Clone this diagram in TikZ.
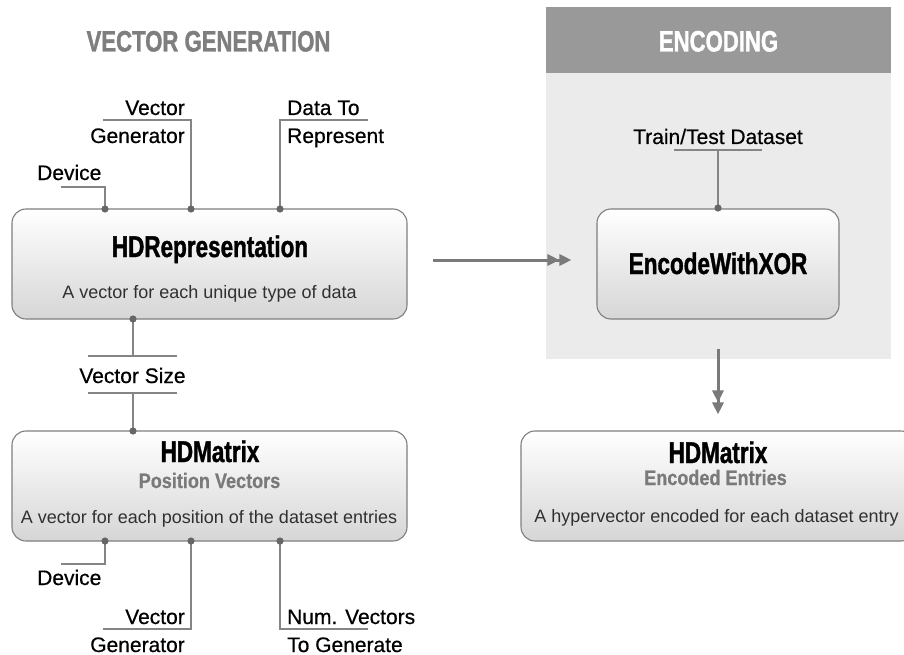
\documentclass[tikz,border=0pt]{standalone}
\usepackage{fontspec}
\setmainfont{Liberation Sans}
\newfontfamily\condfont[FakeStretch=0.75,FakeBold=1.2]{Liberation Sans}
\newfontfamily\subfont[FakeStretch=0.86,FakeBold=0.6]{Liberation Sans}
\newfontfamily\labfont[FakeBold=0.5]{Liberation Sans}
\usetikzlibrary{arrows.meta,calc}
\definecolor{linegray}{HTML}{858585}
\definecolor{dotgray}{HTML}{666666}
\definecolor{boxborder}{HTML}{7F7F7F}
\definecolor{boxbot}{HTML}{D6D6D6}
\definecolor{panelhd}{HTML}{999999}
\definecolor{panelbg}{HTML}{EBEBEB}
\definecolor{titlegray}{HTML}{7E7E7E}
\definecolor{subgray}{HTML}{7A7A7A}
\definecolor{descgray}{HTML}{303030}
\definecolor{arrgray}{HTML}{7A7A7A}
\begin{document}
\begin{tikzpicture}[x=1pt,y=-1pt,
  conn/.style={draw=linegray,line width=1.1pt},
  pin/.style={fill=dotgray},
  box/.style={draw=boxborder,line width=1.1pt,rounded corners=14pt,top color=white,bottom color=boxbot,inner sep=0pt},
  lbl/.style={font=\labfont\fontsize{21}{25}\selectfont,inner sep=0pt,text=black},
  desc/.style={font=\fontsize{18}{21}\selectfont,inner sep=0pt,text=descgray},
  boxtitle/.style={font=\condfont\bfseries\fontsize{30}{34}\selectfont,inner sep=0pt,text=black},
  subtitle/.style={font=\subfont\bfseries\fontsize{21}{25}\selectfont,inner sep=0pt,text=subgray},
  sectitle/.style={font=\condfont\bfseries\fontsize{29.5}{34}\selectfont,inner sep=0pt},
  arr/.style={draw=arrgray,line width=3pt,-{Triangle[length=12pt,width=11pt]Triangle[length=12pt,width=11pt]}}
]
\clip (0,0) rectangle (904,655);
\fill[white] (0,0) rectangle (904,655);

% encoding panel
\fill[panelbg] (546,73) rectangle (891,359);
\fill[panelhd] (546,7) rectangle (891,73);
\node[sectitle,text=white,anchor=base] (enctitle) at (718.5,51.5) {ENCODING};
\node[sectitle,text=titlegray,anchor=base] (vgtitle) at (208.5,51.5) {VECTOR GENERATION};

% boxes
\node[box,minimum width=395pt,minimum height=110pt] (hdr) at (209.5,264) {};
\node[boxtitle,anchor=base] (hdrt) at (210,257) {HDRepresentation};
\node[desc,anchor=base] (hdrd) at (209.5,298) {A vector for each unique type of data};

\node[box,minimum width=395pt,minimum height=110pt] (hdm) at (209.5,486) {};
\node[boxtitle,anchor=base] (hdmt) at (210,462) {HDMatrix};
\node[subtitle,anchor=base] (hdms) at (209.5,488) {Position Vectors};
\node[desc,anchor=base] (hdmd) at (209,523) {A vector for each position of the dataset entries};

\node[box,minimum width=242pt,minimum height=110pt] (enc) at (718,264) {};
\node[boxtitle,anchor=base] (enct) at (718,274) {EncodeWithXOR};

\node[box,minimum width=394pt,minimum height=110pt] (hde) at (718,486) {};
\node[boxtitle,anchor=base] (hdet) at (718,463) {HDMatrix};
\node[subtitle,anchor=base] (hdes) at (715.5,485) {Encoded Entries};
\node[desc,anchor=base] (hded) at (716.5,522) {A hypervector encoded for each dataset entry};

% arrows
\draw[arr] ([xshift=25pt,yshift=4pt]hdr.east) -- ([xshift=-25pt,yshift=4pt]enc.west);
\draw[arr] ([yshift=-29pt]enc.south) -- ([yshift=16pt]hde.north);

% top pins of HDRepresentation
\coordinate (t1) at (105,209);
\coordinate (t2) at (191,209);
\coordinate (t3) at (280,209);
\coordinate (t1e) at (61,187);
\coordinate (t2e) at (103,120);
\coordinate (t3e) at (368,120);
\draw[conn] (t1) |- (t1e);
\draw[conn] (t2) |- (t2e);
\draw[conn] (t3) |- (t3e);
\node[lbl,anchor=base west] (ldev1) at (37,180) {Device};
\node[lbl,anchor=base east] (lvg1a) at (185,115) {Vector};
\node[lbl,anchor=base east] (lvg1b) at (185,143) {Generator};
\node[lbl,anchor=base west] (ldr1a) at (287,115) {Data To};
\node[lbl,anchor=base west] (ldr1b) at (287,143) {Represent};

% vector size
\coordinate (s0) at (133,319);
\coordinate (s1) at (133,356);
\coordinate (s2) at (133,393);
\coordinate (s3) at (133,431);
\coordinate (s1a) at (88,356);
\coordinate (s1b) at (177,356);
\coordinate (s2a) at (88,393);
\coordinate (s2b) at (177,393);
\draw[conn] (s0) -- (s1);
\draw[conn] (s1a) -- (s1b);
\draw[conn] (s2a) -- (s2b);
\draw[conn] (s2) -- (s3);
\node[lbl,anchor=base] (lvs) at (132.5,383) {Vector Size};

% bottom pins of HDMatrix
\coordinate (b1) at (105,541);
\coordinate (b2) at (191,541);
\coordinate (b3) at (280,541);
\coordinate (b1e) at (61,564);
\coordinate (b2e) at (103,629);
\coordinate (b3e) at (368,629);
\draw[conn] (b1) |- (b1e);
\draw[conn] (b2) |- (b2e);
\draw[conn] (b3) |- (b3e);
\node[lbl,anchor=base west] (ldev2) at (37,585) {Device};
\node[lbl,anchor=base east] (lvg2a) at (185,624) {Vector};
\node[lbl,anchor=base east] (lvg2b) at (185,652) {Generator};
\node[lbl,anchor=base west] (lnv2a) at (287,624) {Num. Vectors};
\node[lbl,anchor=base west] (lnv2b) at (287,652) {To Generate};

% train/test dataset
\coordinate (e0) at (718,208);
\coordinate (e1) at (718,150);
\coordinate (e1a) at (674,150);
\coordinate (e1b) at (762,150);
\draw[conn] (e1a) -- (e1b);
\draw[conn] (e1) -- (e0);
\node[lbl,anchor=base] (ltt) at (718,144) {Train/Test Dataset};

% dots
\foreach \p in {t1,t2,t3,s0,s3,b1,b2,b3,e0} \fill[pin] (\p) circle (3.6pt);
\end{tikzpicture}
\end{document}
